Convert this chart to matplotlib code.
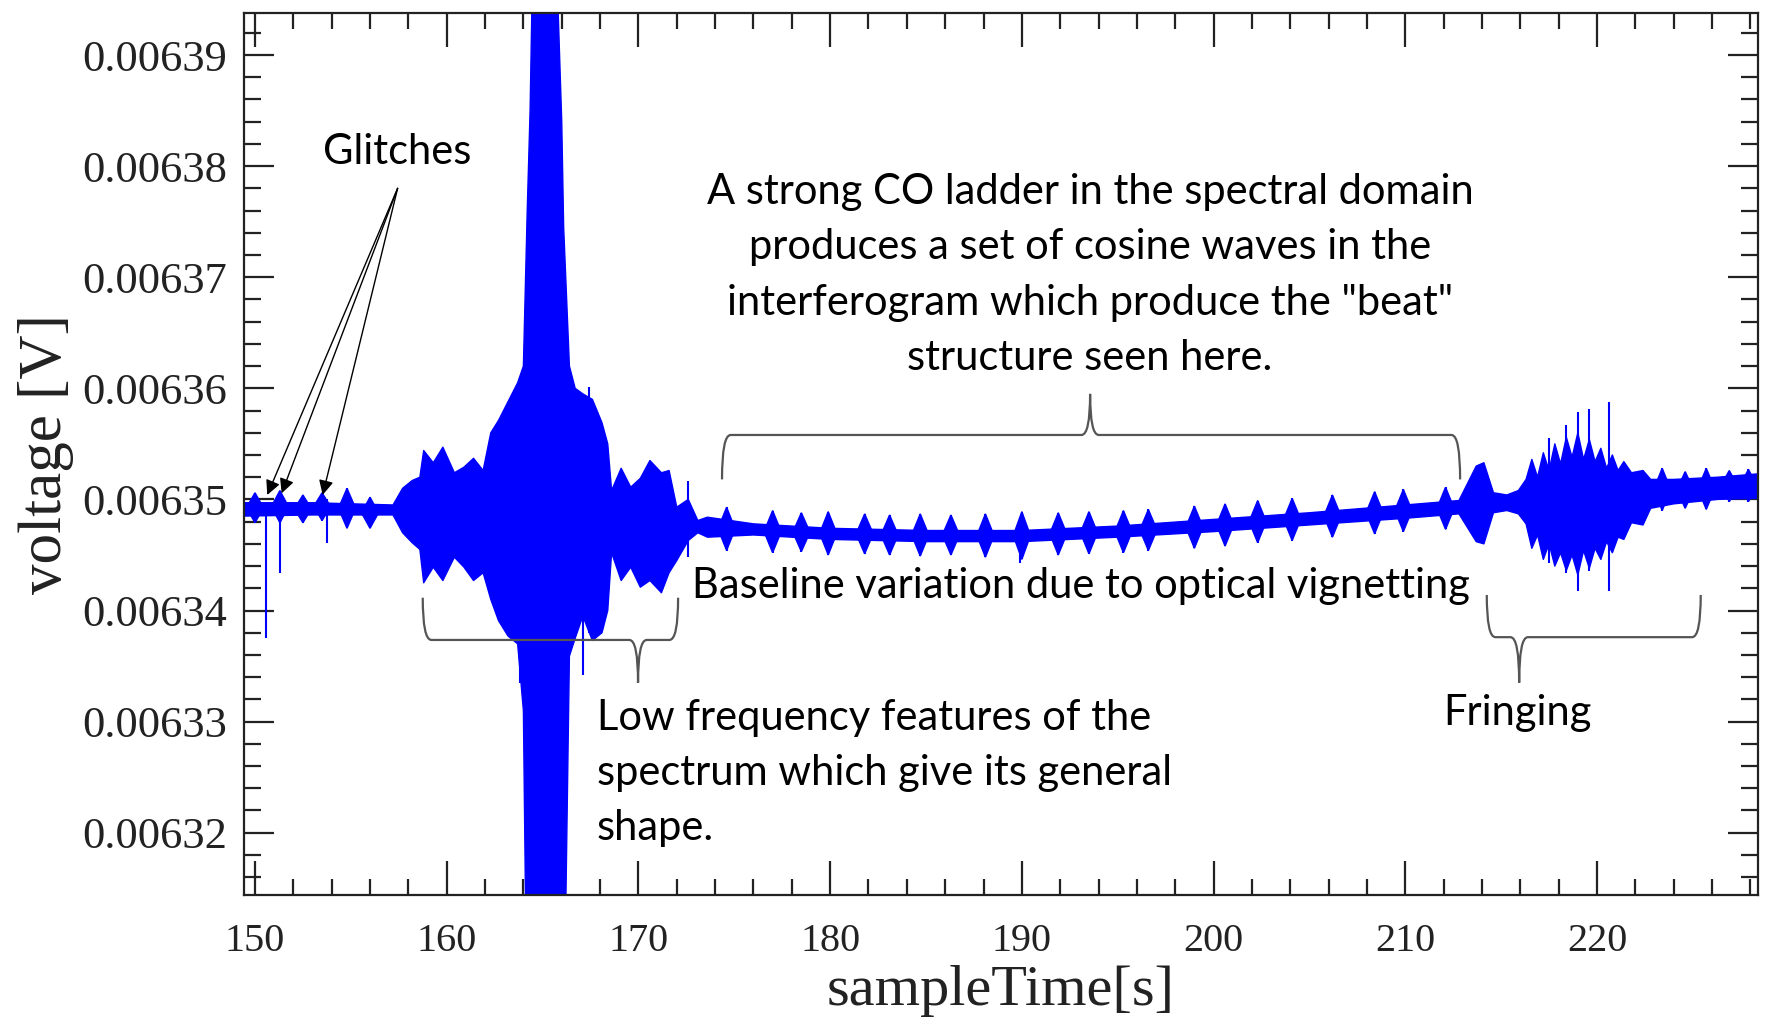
import numpy as np
import matplotlib.pyplot as plt
from matplotlib.ticker import MultipleLocator, FormatStrFormatter
from matplotlib.path import Path
from matplotlib.patches import PathPatch

# slow outline of the interferogram band: time [s], upper / lower edge [uV]
t_env = [149.43, 153.0, 157.2, 157.7, 158.2, 158.6,
         158.8, 159.3, 159.8, 160.4, 160.9, 161.4, 161.9, 162.3, 162.7, 163.2,
         163.7, 164.0, 164.2, 164.35, 164.5, 165.7, 166.0, 166.1, 166.4, 166.7,
         167.1, 167.6, 168.1, 168.4, 168.6, 169.1, 169.6, 170.1, 170.6, 171.2,
         171.6, 172.0, 172.6, 173.1,
         173.6, 176.0, 180.0, 185.0, 190.0, 195.0, 200.0, 205.0, 210.0, 212.8,
         213.7, 214.1, 214.6, 215.3, 215.9, 216.3, 216.6, 216.9, 217.2, 217.5,
         217.8, 218.1, 218.4, 218.7, 219.0, 219.3, 219.6, 219.9, 220.2, 220.5,
         220.8, 221.1, 221.4, 221.8, 222.4, 222.8, 224.0, 226.3, 228.4]
hi_env = [6349.7, 6349.7, 6349.5, 6351.0, 6351.7, 6352.0,
          6354.4, 6353.3, 6354.7, 6352.4, 6352.9, 6353.7, 6352.6, 6356.0, 6357.1, 6358.8,
          6360.5, 6362.0, 6376.0, 6385.0, 6400.0, 6400.0, 6384.0, 6374.5, 6362.0, 6360.0,
          6359.5, 6359.0, 6356.9, 6355.0, 6350.8, 6352.8, 6351.1, 6351.9, 6353.5, 6352.4,
          6352.6, 6349.3, 6350.0, 6348.1,
          6348.4, 6347.8, 6347.4, 6347.2, 6347.2, 6347.6, 6348.2, 6348.8, 6349.5, 6349.9,
          6353.0, 6353.3, 6350.6, 6350.4, 6350.8, 6351.8, 6353.6, 6352.0, 6354.2, 6352.6,
          6355.0, 6353.2, 6355.6, 6353.8, 6356.0, 6353.6, 6355.4, 6353.4, 6354.6, 6352.8,
          6354.0, 6352.6, 6353.4, 6352.4, 6352.6, 6351.8, 6351.8, 6352.0, 6352.3]
lo_env = [6348.5, 6348.6, 6348.6, 6347.0, 6346.1, 6345.5,
          6342.5, 6343.9, 6342.7, 6344.8, 6343.9, 6342.7, 6343.4, 6341.0, 6339.1, 6337.7,
          6337.0, 6331.0, 6300.0, 6300.0, 6300.0, 6300.0, 6300.0, 6300.0, 6335.9, 6337.5,
          6339.5, 6337.3, 6338.0, 6340.0, 6345.2, 6342.7, 6343.9, 6342.1, 6342.7, 6341.6,
          6343.4, 6344.5, 6346.3, 6347.0,
          6346.6, 6346.8, 6346.4, 6346.2, 6346.2, 6346.6, 6347.1, 6347.7, 6348.3, 6348.7,
          6346.2, 6346.0, 6348.8, 6349.0, 6348.7, 6347.8, 6345.6, 6346.8, 6344.6, 6346.0,
          6344.0, 6345.2, 6343.6, 6345.0, 6343.2, 6345.4, 6343.8, 6345.6, 6344.6, 6346.2,
          6345.2, 6346.6, 6346.4, 6347.9, 6347.7, 6349.2, 6349.6, 6350.0, 6350.1]

# short "beat" bursts riding on the band: centre time [s], top / bottom [uV]
beat_t = [150.0, 151.3, 152.5, 153.5, 154.8, 156.0,
          174.6, 177.0, 178.5, 179.9, 181.8, 183.1, 184.7, 186.3, 188.1, 190.0,
          191.9, 193.5, 195.3, 196.6, 199.0, 200.6, 202.3, 204.1, 206.2, 208.4,
          209.9, 212.1,
          223.4, 224.6, 225.7, 226.9, 227.9]
beat_hi = [6350.6, 6350.8, 6350.4, 6350.6, 6351.0, 6350.2,
           6349.3, 6349.0, 6348.8, 6348.9, 6348.7, 6348.6, 6348.7, 6348.6, 6348.7, 6348.9,
           6348.8, 6348.9, 6349.0, 6349.1, 6349.4, 6349.6, 6349.9, 6350.1, 6350.4, 6350.7,
           6350.9, 6351.1,
           6352.8, 6352.5, 6352.8, 6352.6, 6352.7]
beat_lo = [6347.9, 6347.9, 6347.9, 6348.1, 6347.4, 6347.4,
           6345.4, 6345.2, 6345.3, 6345.0, 6345.1, 6345.0, 6344.9, 6345.0, 6344.8, 6344.6,
           6345.0, 6345.1, 6345.2, 6345.4, 6345.6, 6345.8, 6346.1, 6346.3, 6346.6, 6346.9,
           6347.1, 6347.3,
           6349.0, 6349.2, 6349.1, 6349.8, 6349.8]

# single thin spikes (glitches and sharp fringes): time [s], top / bottom [uV]
spike_t = [150.56, 151.3, 153.74, 163.8, 167.1, 167.4, 172.6, 189.9,
           217.5, 218.4, 219.0, 219.6, 220.6]
spike_top = [6349.5, 6350.5, 6350.0, 6358.0, 6358.0, 6360.1, 6351.7, 6347.0,
             6355.5, 6356.7, 6357.9, 6358.1, 6358.8]
spike_bot = [6337.5, 6343.4, 6346.1, 6333.5, 6334.2, 6338.0, 6344.8, 6344.3,
             6344.3, 6343.4, 6341.8, 6343.6, 6341.8]

glitch_t = [150.64, 151.39, 153.53]
glitch_v = [6350.4, 6350.55, 6350.4]

uV = 1e-6
blue = '#0000ff'

fig = plt.figure(figsize=(17.66, 10.34), dpi=100)
ax = fig.add_axes([0.1382, 0.1344, 0.8573, 0.8530])

ax.fill_between(t_env, np.array(lo_env) * uV, np.array(hi_env) * uV,
                color=blue, lw=1.0, zorder=2)
w = 0.45
for bt, bh, bl in zip(beat_t, beat_hi, beat_lo):
    mid = 0.5 * (bh + bl) * uV
    ax.fill([bt - w, bt, bt + w, bt], [mid, bh * uV, mid, bl * uV],
            color=blue, lw=1.0, zorder=2)
ax.vlines(beat_t, np.array(beat_lo) * uV, np.array(beat_hi) * uV, color=blue, lw=1.5, zorder=2)
ax.vlines(spike_t, np.array(spike_bot) * uV, np.array(spike_top) * uV,
          color=blue, lw=1.5, zorder=2)

ax.set_xlim(149.43, 228.40)
ax.set_ylim(6314.39 * uV, 6393.78 * uV)

ax.xaxis.set_major_locator(MultipleLocator(10))
ax.xaxis.set_minor_locator(MultipleLocator(2))
ax.yaxis.set_major_locator(MultipleLocator(0.00001))
ax.yaxis.set_minor_locator(MultipleLocator(0.000002))
ax.yaxis.set_major_formatter(FormatStrFormatter('%.5f'))

ax.tick_params(which='both', direction='in', top=True, right=True, width=1.6, color='#222222')
ax.tick_params(axis='x', which='major', length=24.5, pad=20, labelsize=29)
ax.tick_params(axis='x', which='minor', length=11.5)
ax.tick_params(axis='y', which='major', length=21.6, pad=12, labelsize=32)
ax.tick_params(axis='y', which='minor', length=12)
for lab in ax.get_xticklabels() + ax.get_yticklabels():
    lab.set_family('Liberation Serif')
    lab.set_color('#222222')
for s in ax.spines.values():
    s.set_linewidth(1.6)
    s.set_color('#222222')

ax.set_xlabel('sampleTime[s]', family='Liberation Serif', fontsize=42, color='#222222', labelpad=4)
ax.set_ylabel('voltage [V]', family='Liberation Serif', fontsize=44, color='#222222', labelpad=6)


def brace(x0, x1, xt, y, arm, tip, dx=0.45):
    # curly brace made of two halves meeting at the tip
    y, arm, tip = y * uV, arm * uV, tip * uV
    verts = [(x0, arm), (x0, y), (x0 + dx, y), (xt - dx, y), (xt, y), (xt, tip),
             (xt, y), (xt + dx, y), (x1 - dx, y), (x1, y), (x1, arm)]
    codes = [Path.MOVETO, Path.CURVE3, Path.CURVE3, Path.LINETO, Path.CURVE3, Path.CURVE3,
             Path.CURVE3, Path.CURVE3, Path.LINETO, Path.CURVE3, Path.CURVE3]
    ax.add_patch(PathPatch(Path(verts, codes), fill=False, edgecolor='#555555', lw=1.6, zorder=3))


brace(174.36, 212.86, 193.56, 6355.8, 6351.8, 6359.5)
brace(158.75, 172.07, 169.98, 6337.35, 6341.15, 6333.5)
brace(214.25, 225.41, 215.94, 6337.6, 6341.4, 6333.5)

note = dict(family='Lato', color='black', fontsize=30)

ax.text(157.41, 6381.3 * uV, 'Glitches', ha='center', va='center', **note)
for gt, gv in zip(glitch_t, glitch_v):
    ax.annotate('', xy=(gt, gv * uV), xytext=(157.44, 6378.0 * uV),
                arrowprops=dict(arrowstyle='-|>', color='black', lw=1.0,
                                mutation_scale=22, shrinkA=0, shrinkB=0))

ax.text(193.56, 6370.2 * uV,
        'A strong CO ladder in the spectral domain\n'
        'produces a set of cosine waves in the\n'
        'interferogram which produce the "beat"\n'
        'structure seen here.',
        ha='center', va='center', multialignment='center', linespacing=1.55, **note)
ax.text(193.09, 6342.2 * uV, 'Baseline variation due to optical vignetting',
        ha='center', va='center', **note)
ax.text(167.84, 6325.4 * uV,
        'Low frequency features of the\n'
        'spectrum which give its general\n'
        'shape.',
        ha='left', va='center', linespacing=1.55, **note)
ax.text(215.83, 6330.8 * uV, 'Fringing', ha='center', va='center', **note)

fig.savefig('out.png', dpi=100)
